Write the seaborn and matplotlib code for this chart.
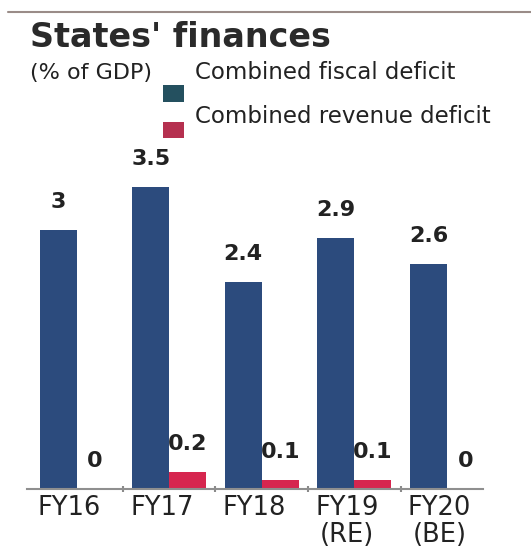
import matplotlib
matplotlib.use("Agg")
import matplotlib.pyplot as plt
from matplotlib.patches import Rectangle
from matplotlib.lines import Line2D
import seaborn as sns
import pandas as pd

# ---- data ----
categories = ["FY16", "FY17", "FY18", "FY19\n(RE)", "FY20\n(BE)"]
fiscal_deficit = [3.0, 3.5, 2.4, 2.9, 2.6]
revenue_deficit = [0.0, 0.2, 0.1, 0.1, 0.0]
series_names = ["Combined fiscal deficit", "Combined revenue deficit"]

df = pd.DataFrame({
    "year": categories * 2,
    "value": fiscal_deficit + revenue_deficit,
    "series": [series_names[0]] * len(categories) + [series_names[1]] * len(categories),
})

sns.set_theme(style="white")
plt.rcParams["font.family"] = ["DejaVu Sans"]

TXT = "#222222"
BLUE = "#2c4b7d"
RED = "#d6264f"

fig = plt.figure(figsize=(5.31, 5.49), dpi=100)
ax = fig.add_axes([27 / 531, 1 - 489 / 549, (483 - 27) / 531, (489 - 140) / 549])

sns.barplot(data=df, x="year", y="value", hue="series", order=categories,
            hue_order=series_names, palette=[BLUE, RED], width=0.8,
            saturation=1, legend=False, ax=ax, errorbar=None, linewidth=0)

for cont in ax.containers:
    ax.bar_label(cont, fmt="%g", padding=13, fontsize=16, fontweight="bold", color=TXT)

ax.set_ylim(0, 4.04)
ax.set_xlim(-0.536, 4.39)
ax.set_xlabel("")
ax.set_ylabel("")
ax.set_yticks([])
ax.set_xticks([i - 0.08 for i in range(len(categories))])
ax.set_xticklabels(categories, fontsize=18.5, color=TXT, linespacing=1.05)
ax.set_xticks([i + 0.5 for i in range(len(categories) - 1)], minor=True)
ax.tick_params(axis="x", which="major", length=0, pad=4)
ax.tick_params(axis="x", which="minor", length=4, width=1.5, color="#8a8a8a", direction="inout", bottom=True)
for s in ["top", "right", "left"]:
    ax.spines[s].set_visible(False)
ax.spines["bottom"].set_color("#8f8f8f")
ax.spines["bottom"].set_linewidth(1.5)

# header rule
fig.add_artist(Line2D([8 / 531, 1.0], [1 - 12 / 549, 1 - 12 / 549], color="#9a8c88", lw=1.5,
                      transform=fig.transFigure))

# title / subtitle
fig.text(30 / 531, 1 - 47 / 549, "States' finances", fontsize=24, fontweight="bold",
         color="#2a2a2a", va="baseline", ha="left")
fig.text(30 / 531, 1 - 79 / 549, "(% of GDP)", fontsize=16, color=TXT, va="baseline", ha="left")

# legend
fig.add_artist(Rectangle((163 / 531, 1 - 102 / 549), 21 / 531, 17 / 549, transform=fig.transFigure,
                         facecolor="#24505f", edgecolor="none"))
fig.add_artist(Rectangle((163 / 531, 1 - 138 / 549), 21 / 531, 16 / 549, transform=fig.transFigure,
                         facecolor="#b5304f", edgecolor="none"))
fig.text(195 / 531, 1 - 79 / 549, series_names[0], fontsize=16.5, color=TXT, va="baseline", ha="left")
fig.text(195 / 531, 1 - 123 / 549, series_names[1], fontsize=16.5, color=TXT, va="baseline", ha="left")

fig.savefig("out.png", dpi=100, facecolor="white")
